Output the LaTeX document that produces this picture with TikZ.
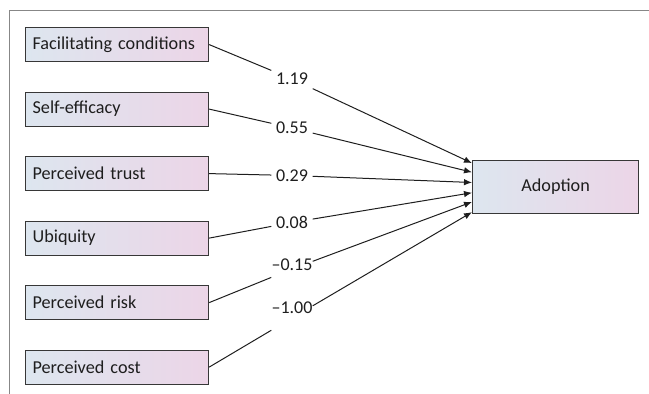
\documentclass[tikz,border=0pt]{standalone}
\usepackage{fontspec}
\setmainfont{Carlito}
\usetikzlibrary{calc,arrows.meta}
\definecolor{frameg}{RGB}{135,135,135}
\definecolor{boxl}{RGB}{221,230,239}
\definecolor{boxr}{RGB}{236,213,231}
\definecolor{edge}{RGB}{55,55,55}
\definecolor{ink}{RGB}{30,30,30}
\tikzset{
  varbox/.style={draw=edge, line width=1.2pt, left color=boxl, right color=boxr,
    minimum height=34pt, text width=169pt, inner xsep=7pt, inner ysep=0pt, align=left,
    anchor=north west, font=\fontsize{18.2}{21}\selectfont, text=ink},
  outbox/.style={draw=edge, line width=1.2pt, left color=boxl, right color=boxr,
    minimum height=53pt, minimum width=166pt, inner sep=0pt, anchor=north west,
    font=\fontsize{18.2}{21}\selectfont, text=ink},
  gapnode/.style={minimum width=41pt, minimum height=26pt, inner sep=0pt},
  numtext/.style={font=\fontsize{18}{21}\selectfont, text=ink, inner sep=0pt},
  conn/.style={draw=ink, line width=1pt},
  arr/.style={conn, -{Latex[length=8pt,width=6.5pt]}}
}
\begin{document}
\begin{tikzpicture}[x=1pt,y=-1pt]
\useasboundingbox (0,0) rectangle (649,394);
% frame
\draw[frameg, line width=1.8pt] (649,10.5) -- (9.5,10.5) -- (9.5,394);
% source boxes
\node[varbox] (fc) at (25,27) {Facilitating conditions};
\node[varbox] (se) at (25,91.5) {Self-efficacy};
\node[varbox] (pt) at (25,156) {Perceived trust};
\node[varbox] (ub) at (25,220.5) {Ubiquity};
\node[varbox] (pr) at (25,285) {Perceived risk};
\node[varbox] (pc) at (25,349.5) {Perceived cost};
% target
\node[outbox] (ad) at (472,160) {Adoption};
\coordinate (t1) at ($(ad.north west)!0.057!(ad.south west)$);
\coordinate (t2) at ($(ad.north west)!0.226!(ad.south west)$);
\coordinate (t3) at ($(ad.north west)!0.415!(ad.south west)$);
\coordinate (t4) at ($(ad.north west)!0.604!(ad.south west)$);
\coordinate (t5) at ($(ad.north west)!0.774!(ad.south west)$);
\coordinate (t6) at ($(ad.north west)!0.962!(ad.south west)$);
% gaps on the connectors
\node[gapnode] (g1) at (292,79) {};
\node[gapnode] (g2) at (292,128) {};
\node[gapnode] (g3) at (292,175.5) {};
\node[gapnode] (g4) at (292,222.5) {};
\node[gapnode] (g5) at (292,269) {};
\node[gapnode] (g6) at (292,318) {};
% coefficient labels
\node[numtext] (n1) at (292,79) {1.19};
\node[numtext] (n2) at (292,128) {0.55};
\node[numtext] (n3) at (292,176) {0.29};
\node[numtext] (n4) at (292,222) {0.08};
\node[numtext] (n5) at (292,265) {–0.15};
\node[numtext] (n6) at (292,308) {–1.00};
% connectors
\draw[conn] (fc.east) -- (g1); \draw[arr] (g1) -- (t1);
\draw[conn] (se.east) -- (g2); \draw[arr] (g2) -- (t2);
\draw[conn] (pt.east) -- (g3); \draw[arr] (g3) -- (t3);
\draw[conn] (ub.east) -- (g4); \draw[arr] (g4) -- (t4);
\draw[conn] (pr.east) -- (g5); \draw[arr] (g5) -- (t5);
\draw[conn] (pc.east) -- (g6); \draw[arr] (g6) -- (t6);
\end{tikzpicture}
\end{document}
